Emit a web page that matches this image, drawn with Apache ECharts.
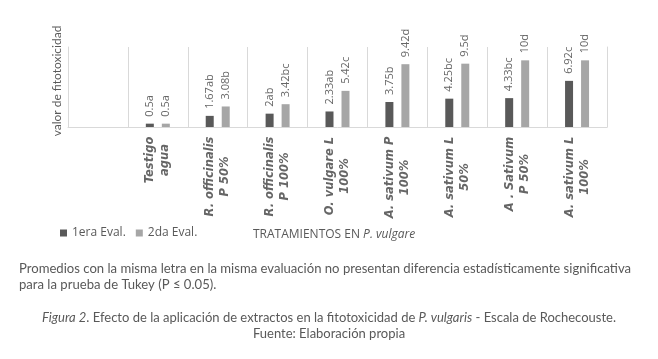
<!DOCTYPE html>
<html><head><meta charset="utf-8">
<script src="https://cdn.jsdelivr.net/npm/echarts@6/dist/echarts.min.js"></script>
<style>html,body{margin:0;padding:0;background:#fff}#c{width:658px;height:359px}</style>
</head><body><div id="c"></div>
<script>
const categories = ['', 'Testigo\nagua', 'R. officinalis\nP 50%', 'R. officinalis\nP 100%', 'O. vulgare L\n100%', 'A. sativum P\n100%', 'A. sativum L\n50%', 'A . Sativum\nP 50%', 'A. sativum L\n100%'];
const eval1 = [null, 0.5, 1.67, 2, 2.33, 3.75, 4.25, 4.33, 6.92];
const eval2 = [null, 0.5, 3.08, 3.42, 5.42, 9.42, 9.5, 10, 10];
const letters1 = ['', 'a', 'ab', 'ab', 'ab', 'b', 'bc', 'bc', 'c'];
const letters2 = ['', 'a', 'b', 'bc', 'c', 'd', 'd', 'd', 'd'];
const seriesNames = ['1era Eval.', '2da Eval.'];
const yAxisName = 'valor de fitotoxicidad';

const CAT_FONT = 'DejaVu Sans';
const CAT_SIZE = 11.5;
const ctx = document.createElement('canvas').getContext('2d');
ctx.font = 'italic bold ' + CAT_SIZE + 'px "' + CAT_FONT + '"';
const rich = {};
categories.forEach((c, i) => {
  const w = Math.max(1, ...c.split('\n').map(s => ctx.measureText(s).width));
  rich['c' + i] = {width: Math.ceil(w) + 1, align: 'center', fontFamily: CAT_FONT, fontStyle: 'italic', fontWeight: 'bold', fontSize: CAT_SIZE, color: '#666666', lineHeight: 15};
});

const GRID = '#d9d9d9';
const chart = echarts.init(document.getElementById('c'), null, {renderer: 'canvas'});
const lbl = (letters) => ({
  show: true, position: 'top', rotate: 90, align: 'left', verticalAlign: 'middle', distance: 7,
  fontFamily: 'Open Sans', fontSize: 11, color: '#666666',
  formatter: p => p.value == null ? '' : p.value + letters[p.dataIndex]
});
const yBase = {type: 'value', min: 0, max: 12, axisLabel: {show: false}, axisTick: {show: false}, splitLine: {show: false},
  axisLine: {show: true, lineStyle: {color: GRID, width: 1}}};
chart.setOption({
  animation: false,
  grid: {left: 68, right: 51, top: 47, bottom: 232, containLabel: false},
  legend: {
    data: seriesNames, left: 60, top: 227, padding: 0, itemWidth: 7, itemHeight: 7, itemGap: 10,
    textStyle: {fontFamily: 'Open Sans', fontSize: 12, color: '#595959'}, icon: 'rect'
  },
  xAxis: {
    type: 'category', data: categories,
    axisLine: {lineStyle: {color: GRID, width: 1}},
    axisTick: {show: false},
    splitLine: {show: true, lineStyle: {color: GRID, width: 1}},
    axisLabel: {
      interval: 0, rotate: 90, margin: 9,
      formatter: (v, i) => v.split('\n').map(s => '{c' + i + '|' + s + '}').join('\n'),
      rich: rich
    }
  },
  yAxis: [
    Object.assign({position: 'left', name: yAxisName, nameLocation: 'middle', nameRotate: 90, nameGap: 5,
      nameTextStyle: {fontFamily: 'Lato', fontSize: 12, color: '#595959', padding: [0, 0, 0, 12]}}, yBase),
    Object.assign({position: 'right'}, yBase)
  ],
  series: [
    {name: seriesNames[0], type: 'bar', data: eval1, barWidth: 8, barGap: '100%', itemStyle: {color: '#595959'}, label: lbl(letters1)},
    {name: seriesNames[1], type: 'bar', data: eval2, barWidth: 8, itemStyle: {color: '#a6a6a6'}, label: lbl(letters2)}
  ],
  graphic: [
    {type: 'text', x: 253, y: 235,
     style: {text: '{n|TRATAMIENTOS EN }{i|P. vulgare}', fontFamily: 'Open Sans', fontSize: 12, fill: '#595959', textVerticalAlign: 'middle',
       rich: {n: {fontFamily: 'Open Sans', fontSize: 12, fill: '#595959'}, i: {fontFamily: 'Open Sans', fontSize: 12, fontStyle: 'italic', fill: '#595959'}}}},
    {type: 'text', x: 19, y: 261,
     style: {text: 'Promedios con la misma letra en la misma evaluación no presentan diferencia estadísticamente significativa\npara la prueba de Tukey (P ≤ 0.05).', fontFamily: 'Lato', fontSize: 13.1, lineHeight: 16, fill: '#595959'}},
    {type: 'text', x: 329, y: 310,
     style: {text: '{i|Figura 2}. Efecto de la aplicación de extractos en la fitotoxicidad de {i|P. vulgaris} - Escala de Rochecouste.\nFuente: Elaboración propia', fontFamily: 'Lato', fontSize: 13, lineHeight: 16, fill: '#595959', textAlign: 'center',
       rich: {i: {fontFamily: 'Lato', fontSize: 13, fontStyle: 'italic', fill: '#595959'}}}}
  ]
});
</script></body></html>
